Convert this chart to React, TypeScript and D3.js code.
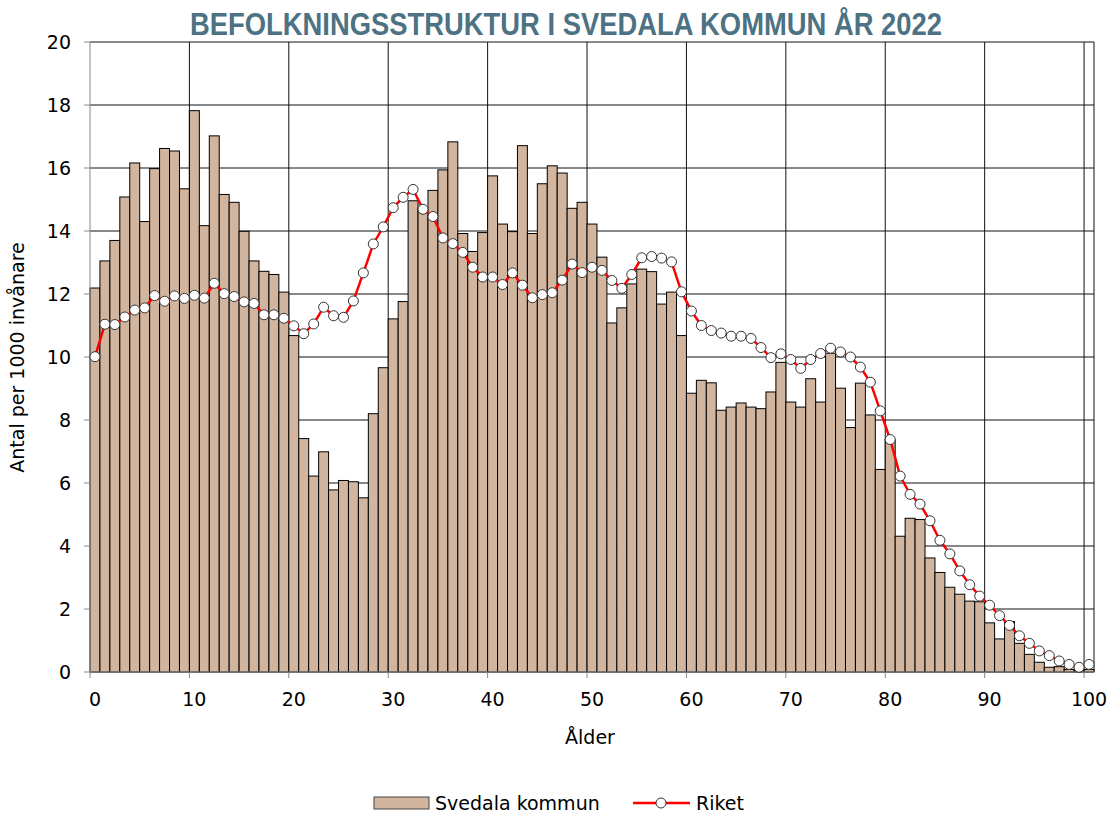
import React from 'react';
import * as d3 from 'd3';

const ages = d3.range(0, 101);

// Svedala kommun, antal per 1000 invånare per ålder 0..100
const svedala = [
  12.19, 13.05, 13.7, 15.08, 16.16, 14.3, 15.98, 16.62, 16.54, 15.34,
  17.82, 14.17, 17.02, 15.16, 14.91, 13.99, 13.05, 12.72, 12.62, 12.06,
  10.68, 7.41, 6.22, 6.99, 5.78, 6.08, 6.04, 5.53, 8.2, 9.66,
  11.21, 11.76, 14.96, 14.72, 15.29, 15.94, 16.83, 13.92, 13.35, 13.95,
  15.75, 14.22, 13.98, 16.71, 13.92, 15.5, 16.07, 15.84, 14.72, 14.91,
  14.22, 13.17, 11.08, 11.56, 12.32, 12.79, 12.71, 11.68, 12.06, 10.68,
  8.85, 9.26, 9.18, 8.31, 8.41, 8.54, 8.41, 8.36, 8.89, 9.83,
  8.57, 8.41, 9.31, 8.57, 10.12, 9.01, 7.76, 9.17, 8.16, 6.43,
  7.38, 4.31, 4.88, 4.84, 3.62, 3.16, 2.69, 2.47, 2.25, 2.23,
  1.56, 1.05, 1.6, 0.91, 0.56, 0.31, 0.15, 0.17, 0.08, 0.05,
  0.08,
];

// Riket
const riket = [
  10.01, 11.04, 11.03, 11.27, 11.49, 11.56, 11.95, 11.77, 11.94, 11.86,
  11.96, 11.87, 12.34, 12.01, 11.92, 11.75, 11.7, 11.34, 11.34, 11.23,
  10.99, 10.74, 11.05, 11.58, 11.31, 11.26, 11.78, 12.67, 13.59, 14.13,
  14.74, 15.07, 15.32, 14.69, 14.46, 13.78, 13.6, 13.32, 12.85, 12.54,
  12.54, 12.3, 12.67, 12.28, 11.88, 11.98, 12.04, 12.44, 12.95, 12.68,
  12.85, 12.75, 12.43, 12.18, 12.62, 13.15, 13.19, 13.14, 13.02, 12.07,
  11.46, 11.0, 10.84, 10.76, 10.66, 10.66, 10.59, 10.3, 9.98, 10.1,
  9.92, 9.64, 9.92, 10.11, 10.28, 10.16, 10.0, 9.68, 9.2, 8.29,
  7.38, 6.22, 5.64, 5.33, 4.8, 4.18, 3.75, 3.21, 2.77, 2.41,
  2.12, 1.79, 1.48, 1.15, 0.91, 0.67, 0.52, 0.35, 0.24, 0.15,
  0.24,
];

const yTicks = d3.range(0, 21, 2);
const xLabels = d3.range(0, 101, 10);

const W = 1114;
const H = 816;
const left = 90;
const right = 1094;
const top = 42;
const bottom = 672;

const font = '"DejaVu Sans", Verdana, sans-serif';
const titleFont = '"Liberation Sans Narrow", "Liberation Sans", Arial, sans-serif';

export default function App() {
  const x = d3.scaleBand<number>().domain(ages).range([left, right]).padding(0);
  const y = d3.scaleLinear().domain([0, 20]).range([bottom, top]);
  const bw = x.bandwidth();

  const line = d3
    .line<number>()
    .x((_, i) => (x(ages[i]) as number) + bw / 2)
    .y((d) => y(d));

  return (
    <svg
      width={W}
      height={H}
      style={{ position: 'absolute', left: 0, top: 0, background: '#fff' }}
      fontFamily={font}
    >
      <text
        x={566}
        y={35}
        textAnchor="middle"
        fontSize={31}
        fontWeight="bold"
        fontFamily={titleFont}
        fill="#4c7283"
        textLength={752}
        lengthAdjust="spacingAndGlyphs"
      >
        BEFOLKNINGSSTRUKTUR I SVEDALA KOMMUN ÅR 2022
      </text>

      {/* horizontal grid */}
      {yTicks.map((t) => (
        <line
          key={'h' + t}
          x1={left}
          x2={right}
          y1={y(t)}
          y2={y(t)}
          stroke={t === 0 ? '#888' : '#111'}
          strokeWidth={1}
        />
      ))}
      {/* vertical grid */}
      {xLabels.slice(1).map((a) => (
        <line
          key={'v' + a}
          x1={x(a) as number}
          x2={x(a) as number}
          y1={top}
          y2={bottom}
          stroke="#111"
          strokeWidth={1}
        />
      ))}
      <line x1={right} x2={right} y1={top} y2={bottom} stroke="#111" />

      {/* bars */}
      {svedala.map((v, i) => (
        <rect
          key={'b' + i}
          x={x(ages[i]) as number}
          y={y(v)}
          width={bw}
          height={bottom - y(v)}
          fill="#d2b59e"
          stroke="#000"
          strokeWidth={1}
        />
      ))}

      {/* axes */}
      <line x1={left} x2={left} y1={top} y2={bottom} stroke="#888" />
      <line x1={left} x2={right} y1={bottom} y2={bottom} stroke="#888" />
      {yTicks.map((t) => (
        <g key={'yt' + t}>
          <line x1={left - 6} x2={left} y1={y(t)} y2={y(t)} stroke="#888" />
          <text x={71} y={y(t)} dy="0.36em" textAnchor="end" fontSize={19} fill="#000">
            {t}
          </text>
        </g>
      ))}
      {xLabels.map((a) => (
        <g key={'xt' + a}>
          <line
            x1={x(a) as number}
            x2={x(a) as number}
            y1={bottom}
            y2={bottom + 6}
            stroke="#888"
          />
          <text
            x={(x(a) as number) + bw / 2}
            y={706}
            textAnchor="middle"
            fontSize={19}
            fill="#000"
          >
            {a}
          </text>
        </g>
      ))}

      {/* Riket line */}
      <path d={line(riket) || ''} fill="none" stroke="#ff0000" strokeWidth={2.5} />
      {riket.map((v, i) => (
        <circle
          key={'c' + i}
          cx={(x(ages[i]) as number) + bw / 2}
          cy={y(v)}
          r={5}
          fill="#fff"
          stroke="#333"
          strokeWidth={1}
        />
      ))}

      <text x={590} y={744} textAnchor="middle" fontSize={19}>
        Ålder
      </text>
      <text
        transform={`translate(24,${357.5}) rotate(-90)`}
        textAnchor="middle"
        fontSize={19}
      >
        Antal per 1000 invånare
      </text>

      {/* legend */}
      <rect x={374} y={797} width={55} height={12} fill="#d2b59e" stroke="#444" />
      <text x={435} y={810} fontSize={19}>
        Svedala kommun
      </text>
      <line x1={633} x2={690} y1={803} y2={803} stroke="#ff0000" strokeWidth={2.5} />
      <circle cx={661} cy={803} r={5} fill="#fff" stroke="#333" />
      <text x={696} y={810} fontSize={19}>
        Riket
      </text>
    </svg>
  );
}
